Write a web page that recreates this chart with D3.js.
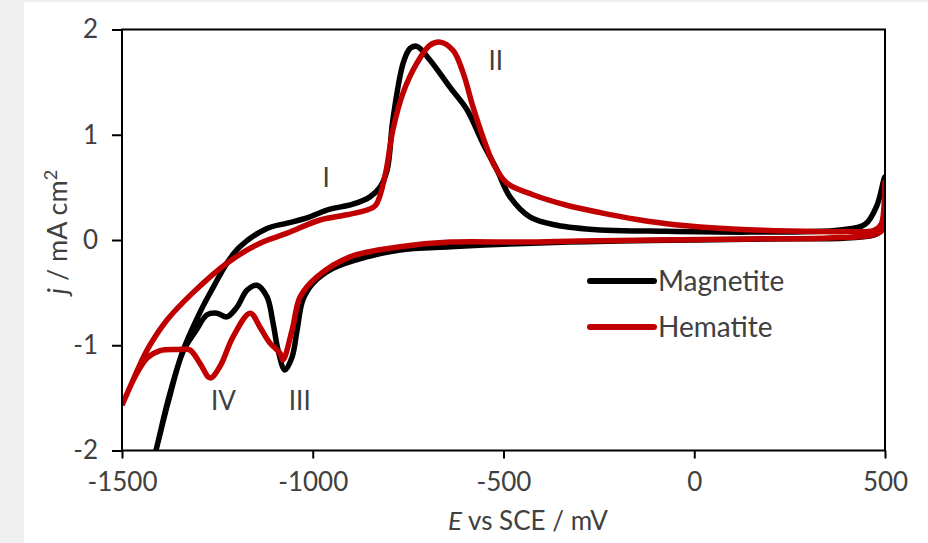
<!DOCTYPE html>
<html>
<head>
<meta charset="utf-8">
<script src="https://cdn.jsdelivr.net/npm/d3@7"></script>
<style>
  body { margin: 0; background: #efefef; }
  svg { display: block; }
  text { font-family: Lato, "Open Sans", sans-serif; fill: #404040; }
</style>
</head>
<body>
<script>
// potential (mV vs SCE) and current density (mA cm-2)
// each series is one closed CV loop: forward (anodic) scan then reverse (cathodic)
let magnetiteE = [-1440, -1411, -1379, -1340, -1296, -1261, -1225, -1191, -1120, -1067, -1015, -963, -895, -850, -824, -805, -790, -763, -745, -727, -693, -640, -596, -554, -517, -483, -431, -360, -247, -116, 146, 382, 448, 479, 500,
  497, 480, 400, 200, 0, -200, -330, -465, -640, -771, -858, -947, -999, -1026, -1041, -1054, -1073, -1091, -1104, -1120, -1146, -1172, -1199, -1225, -1251, -1277, -1306, -1340, -1379, -1411, -1440]
let magnetiteJ = [-2.4, -2.0, -1.52, -1.05, -0.69, -0.45, -0.22, -0.065, 0.11, 0.16, 0.21, 0.285, 0.34, 0.41, 0.5, 0.665, 1.14, 1.68, 1.82, 1.84, 1.71, 1.45, 1.24, 0.92, 0.665, 0.41, 0.22, 0.14, 0.095, 0.085, 0.075, 0.095, 0.15, 0.33, 0.6,
  0.15, 0.06, 0.02, 0.01, 0.0, -0.01, -0.02, -0.035, -0.065, -0.095, -0.16, -0.27, -0.41, -0.57, -0.855, -1.11, -1.235, -1.045, -0.79, -0.54, -0.43, -0.475, -0.64, -0.73, -0.695, -0.71, -0.86, -1.06, -1.54, -2.0, -2.4]

let hematiteE = [-1500, -1471, -1450, -1427, -1382, -1314, -1225, -1138, -1067, -981, -910, -858, -835, -810, -790, -763, -727, -693, -666, -632, -606, -580, -554, -527, -491, -423, -334, -247, -150, -50, 100, 250, 400, 470, 490, 500,
  499, 470, 350, 150, -100, -300, -450, -640, -771, -902, -989, -1033, -1054, -1078, -1086, -1112, -1138, -1164, -1209, -1243, -1269, -1296, -1322, -1356, -1400, -1434, -1463, -1500]
let hematiteJ = [-1.57, -1.33, -1.16, -1.0, -0.76, -0.5, -0.22, -0.03, 0.065, 0.19, 0.24, 0.285, 0.33, 0.62, 1.045, 1.4, 1.68, 1.85, 1.88, 1.8, 1.59, 1.265, 0.98, 0.73, 0.54, 0.43, 0.33, 0.26, 0.195, 0.145, 0.105, 0.085, 0.08, 0.09, 0.15, 0.55,
  0.12, 0.05, 0.02, 0.01, 0.0, -0.01, -0.02, -0.02, -0.065, -0.16, -0.35, -0.54, -0.855, -1.14, -1.075, -0.98, -0.83, -0.695, -0.92, -1.2, -1.31, -1.17, -1.045, -1.04, -1.05, -1.12, -1.28, -1.57]

let seriesNames = ['Magnetite', 'Hematite']
let seriesColors = ['#000000', '#c00000']
let xTicks = [-1500, -1000, -500, 0, 500]
let yTicks = [-2, -1, 0, 1, 2]
let peakLabels = ['I', 'II', 'III', 'IV']
let peakE = [-965, -520, -1034, -1234]
let peakJ = [0.59, 1.7, -1.53, -1.53]

let W = 928, H = 543
let m = {l: 122, r: 885, t: 29.5, b: 450.5}

let svg = d3.select('body').append('svg').attr('width', W).attr('height', H)
svg.append('rect').attr('x', 24).attr('y', 2).attr('width', W - 24).attr('height', H - 2).attr('fill', '#ffffff')

let x = d3.scaleLinear().domain([-1500, 500]).range([m.l, m.r])
let y = d3.scaleLinear().domain([-2, 2]).range([m.b, m.t])

svg.append('clipPath').attr('id', 'plot').append('rect')
  .attr('x', m.l).attr('y', m.t).attr('width', m.r - m.l).attr('height', m.b - m.t)

let line = d3.line()
  .x(function (d) { return x(d[0]) })
  .y(function (d) { return y(d[1]) })
  .curve(d3.curveCatmullRom.alpha(0.5))

let loops = [d3.zip(magnetiteE, magnetiteJ), d3.zip(hematiteE, hematiteJ)]

svg.append('g').attr('clip-path', 'url(#plot)').selectAll('path').data(loops).enter().append('path')
  .attr('d', line)
  .attr('fill', 'none')
  .attr('stroke', function (d, i) { return seriesColors[i] })
  .attr('stroke-width', 5.5)
  .attr('stroke-linejoin', 'round')

// frame
svg.append('rect').attr('x', m.l).attr('y', m.t).attr('width', m.r - m.l).attr('height', m.b - m.t)
  .attr('fill', 'none').attr('stroke', '#000').attr('stroke-width', 2)

let xAxis = svg.append('g').attr('transform', 'translate(0,' + m.b + ')')
  .call(d3.axisBottom(x).tickValues(xTicks).tickSize(8).tickPadding(14).tickFormat(d3.format('d')))
let yAxis = svg.append('g').attr('transform', 'translate(' + m.l + ',0)')
  .call(d3.axisLeft(y).tickValues(yTicks).tickSize(10).tickPadding(14).tickFormat(d3.format('d')))
;[xAxis, yAxis].forEach(function (a) {
  a.select('.domain').remove()
  a.selectAll('line').attr('stroke', '#000').attr('stroke-width', 2)
  a.selectAll('text').attr('font-size', 26).attr('font-family', 'Lato').attr('fill', '#404040')
})
xAxis.selectAll('text').text(function (d) { return d < 0 ? '-' + Math.abs(d) : d })
yAxis.selectAll('text').text(function (d) { return d < 0 ? '-' + Math.abs(d) : d })

// axis titles
let xt = svg.append('text').attr('x', 528).attr('y', 530).attr('text-anchor', 'middle').attr('font-size', 26)
xt.append('tspan').attr('font-style', 'italic').text('E')
xt.append('tspan').text(' vs SCE / mV')

let yt = svg.append('text').attr('transform', 'translate(67,232) rotate(-90)').attr('text-anchor', 'middle').attr('font-size', 27)
yt.append('tspan').attr('font-style', 'italic').text('j')
yt.append('tspan').text(' / mA cm')
yt.append('tspan').attr('font-size', 18).attr('dy', -10).text('2')

// peak labels
svg.selectAll('.peak').data(peakLabels).enter().append('text').attr('class', 'peak')
  .attr('x', function (d, i) { return x(peakE[i]) })
  .attr('y', function (d, i) { return y(peakJ[i]) })
  .attr('text-anchor', 'middle').attr('dy', '0.35em').attr('font-size', 26)
  .text(function (d) { return d })

// legend
let lg = svg.append('g').selectAll('g').data(seriesNames).enter().append('g')
  .attr('transform', function (d, i) { return 'translate(590,' + (281 + i * 46) + ')' })
lg.append('line').attr('x1', 0).attr('x2', 64).attr('stroke', function (d, i) { return seriesColors[i] })
  .attr('stroke-width', 6).attr('stroke-linecap', 'round')
lg.append('text').attr('x', 68).attr('dy', '0.35em').attr('font-size', 28).text(function (d) { return d })
</script>
</body>
</html>
